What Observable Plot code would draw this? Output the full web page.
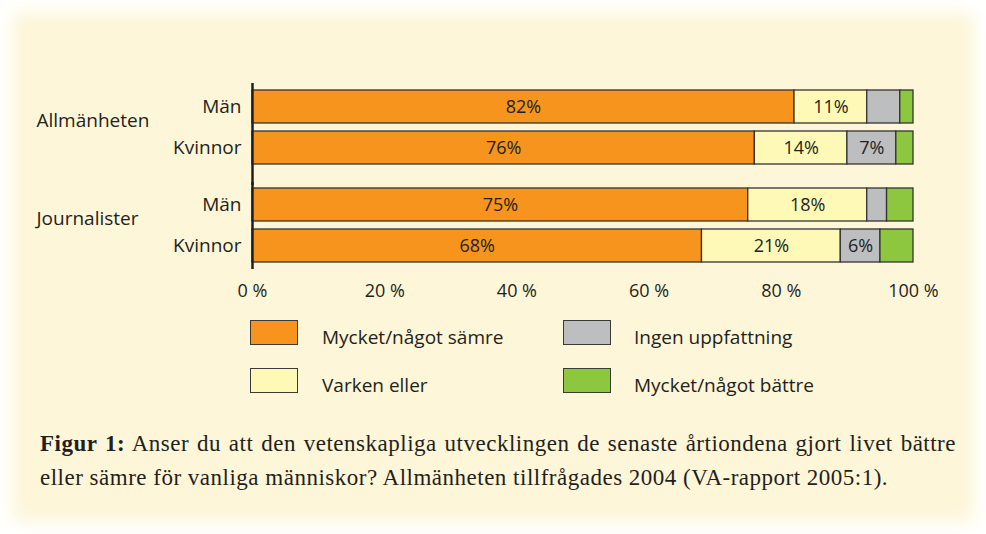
<!DOCTYPE html>
<html>
<head>
<meta charset="utf-8">
<script src="https://cdn.jsdelivr.net/npm/d3@7"></script>
<script src="https://cdn.jsdelivr.net/npm/@observablehq/plot@0.6"></script>
<style>
  html, body { margin: 0; padding: 0; background: #ffffff; }
  #wrap {
    position: relative; width: 986px; height: 534px; overflow: hidden;
    background: #fef6d8;
    box-shadow: inset 0 0 18px 12px #ffffff;
    font-family: "Open Sans", sans-serif;
  }
  #chart { position: absolute; left: 0; top: 0; }
  .leg { position: absolute; font-size: 19px; color: #231f20; line-height: 24px; }
  .sw { position: absolute; width: 46px; height: 23px; border: 1.5px solid #3a3a3a; }
  #caption {
    position: absolute; left: 40px; top: 427px; width: 916px;
    font-family: "Liberation Serif", "Times New Roman", serif;
    font-size: 23px; line-height: 34px; color: #231f20; letter-spacing: 0.5px;
  }
  #caption .l1 { display: block; text-align: justify; text-align-last: justify; }
  #caption .l2 { display: block; }
</style>
</head>
<body>
<div id="wrap">
  <div id="chart"></div>
  <div id="legend"></div>
  <div id="caption"><span class="l1"><b>Figur 1:</b> Anser du att den vetenskapliga utvecklingen de senaste årtiondena gjort livet bättre</span><span class="l2">eller sämre för vanliga människor? Allmänheten tillfrågades 2004 (VA-rapport 2005:1).</span></div>
</div>
<script>
// ---- data ----
const groups = ["Allmänheten", "Journalister"];
const subgroups = ["Män", "Kvinnor"];
const categories = ["Mycket/något sämre", "Varken eller", "Ingen uppfattning", "Mycket/något bättre"];
const colors = ["#f7941d", "#fff9b7", "#bcbec0", "#8dc63f"];
// values per bar, in order: Allmänheten Män, Allmänheten Kvinnor, Journalister Män, Journalister Kvinnor
const samre   = [82, 76, 75, 68];
const varken  = [11, 14, 18, 21];
const ingen   = [5, 7.4, 3, 6];
const battre  = [2, 2.6, 4, 5];
const xTicks = [0, 20, 40, 60, 80, 100];

const series = [samre, varken, ingen, battre];
const bars = [
  {group: groups[0], sub: subgroups[0]},
  {group: groups[0], sub: subgroups[1]},
  {group: groups[1], sub: subgroups[0]},
  {group: groups[1], sub: subgroups[1]}
];
const data = [];
bars.forEach((b, i) => {
  categories.forEach((c, j) => {
    data.push({group: b.group, sub: b.sub, category: c, value: series[j][i]});
  });
});

const chart = Plot.plot({
  width: 986,
  height: 310,
  marginLeft: 252,
  marginRight: 73,
  marginTop: 84,
  marginBottom: 41,
  style: {background: "transparent", fontFamily: "'Open Sans', sans-serif", fontSize: "16px", color: "#231f20"},
  x: {domain: [0, 100]},
  y: {domain: subgroups, paddingInner: 0.205, paddingOuter: 0.145},
  fy: {domain: groups, paddingInner: 0.118, paddingOuter: 0},
  color: {domain: categories, range: colors},
  marks: [
    Plot.barX(data, {
      x: "value", y: "sub", fy: "group", fill: "category",
      stroke: "#333333", strokeWidth: 1.3, order: categories
    }),
    Plot.text(data, Plot.stackX({
      x: "value", y: "sub", fy: "group", z: "category", order: categories,
      text: d => d.value >= 5.5 ? Math.round(d.value) + "%" : "",
      fill: "#231f20", fontSize: 18
    })),
    Plot.ruleX([{g: groups[0]}], {x: () => 0, fy: "g", stroke: "#231f20", strokeWidth: 2.5, insetTop: -1, insetBottom: -15}),
    Plot.ruleX([{g: groups[1]}], {x: () => 0, fy: "g", stroke: "#231f20", strokeWidth: 2.5, insetBottom: -1}),
    Plot.axisX({ticks: xTicks, tickSize: 0, tickPadding: 16, line: true, stroke: "#231f20", strokeWidth: 3.5,
      tickFormat: d => d + " %", fontSize: 18, label: null}),
    Plot.axisY({tickSize: 0, tickPadding: 11, fontSize: 19, label: null}),
    Plot.axisFy({anchor: "left", tickSize: 0, tickPadding: 0, textAnchor: "start", dx: -216, dy: -7, fontSize: 19, label: null})
  ]
});
document.getElementById("chart").appendChild(chart);

// legend
const legendPos = [
  {x: 250, y: 320, tx: 322},
  {x: 250, y: 368, tx: 322},
  {x: 563, y: 320, tx: 634},
  {x: 563, y: 368, tx: 634}
];
const leg = document.getElementById("legend");
categories.forEach((c, i) => {
  const p = legendPos[i];
  const sw = document.createElement("div");
  sw.className = "sw";
  sw.style.left = p.x + "px"; sw.style.top = p.y + "px"; sw.style.background = colors[i];
  leg.appendChild(sw);
  const t = document.createElement("div");
  t.className = "leg";
  t.textContent = c;
  t.style.left = p.tx + "px"; t.style.top = (p.y + 5) + "px";
  leg.appendChild(t);
});
</script>
</body>
</html>
